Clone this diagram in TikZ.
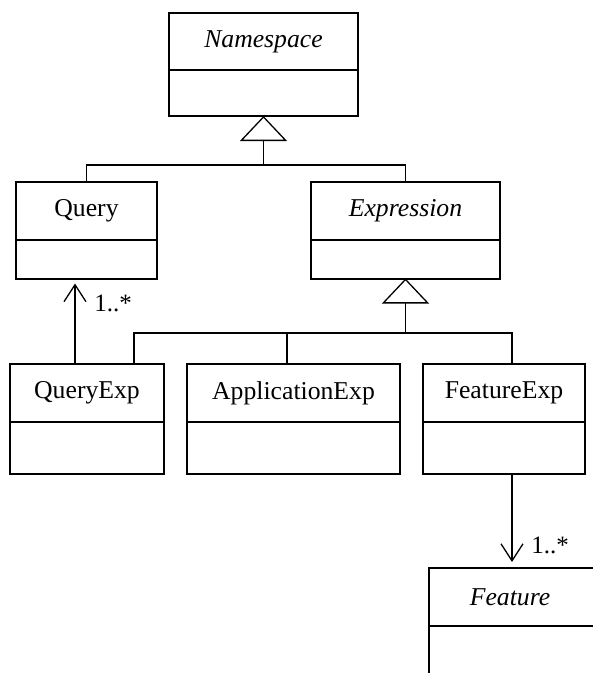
\documentclass[tikz,border=0pt]{standalone}
\usepackage{fontspec}
\setmainfont{Liberation Serif}
\usetikzlibrary{arrows.meta}

\tikzset{
  classname/.style={draw, line width=2pt, inner sep=0pt, outer sep=0pt, anchor=north west,
    minimum height=58pt, font=\fontsize{25.7}{30}\selectfont},
  classattr/.style={draw, line width=2pt, inner sep=0pt, outer sep=0pt, anchor=north},
  link/.style={line width=1.3pt},
  genarrow/.style={link, -{Triangle[open, length=25pt, width=47pt]}},
  navarrow/.style={link, -{Straight Barb[length=17pt, width=22pt]}},
  mult/.style={font=\fontsize{25}{30}\selectfont, inner sep=0pt},
}

\begin{document}
\begin{tikzpicture}[x=1pt, y=-1pt]
  \clip (0,0) rectangle (593,673);
  \fill[white] (0,0) rectangle (593,673);

  % Namespace
  \node[classname, minimum width=189pt, minimum height=57pt] (ns) at (169,13) {\textit{Namespace}};
  \node[classattr, minimum width=189pt, minimum height=46pt] (nsA) at (ns.south) {};

  % Query and Expression
  \node[classname, minimum width=141pt] (q) at (16,181.5) {Query};
  \node[classattr, minimum width=141pt, minimum height=39pt] (qA) at (q.south) {};
  \node[classname, minimum width=189pt] (e) at (311,181.5) {\textit{Expression}};
  \node[classattr, minimum width=189pt, minimum height=39pt] (eA) at (e.south) {};

  % Expression subclasses
  \node[classname, minimum width=154pt] (qe) at (10,364) {QueryExp};
  \node[classattr, minimum width=154pt, minimum height=52pt] (qeA) at (qe.south) {};
  \node[classname, minimum width=213pt] (ae) at (187,364) {ApplicationExp};
  \node[classattr, minimum width=213pt, minimum height=52pt] (aeA) at (ae.south) {};
  \node[classname, minimum width=162pt] (fe) at (423,364) {FeatureExp};
  \node[classattr, minimum width=162pt, minimum height=52pt] (feA) at (fe.south) {};

  % Feature
  \node[classname, minimum width=200pt] (f) at (429,568) {\hspace*{-38pt}\textit{Feature}};
  \node[classattr, minimum width=200pt, minimum height=90pt] (fA) at (f.south) {};

  % Generalization: Query, Expression -> Namespace
  \coordinate (bus1) at (263.5,165);
  \draw[link] (q.north) |- (bus1) -| (e.north);
  \draw[genarrow] (bus1) -- (nsA.south);

  % Generalization: subclasses -> Expression
  \coordinate (bus2) at (405.5,333);
  \coordinate (qeGen) at (134,364);
  \coordinate (aeGen) at (287,364);
  \coordinate (feGen) at (512,364);
  \draw[link] (qeGen) |- (bus2) -| (feGen);
  \draw[link] (aeGen) -- (aeGen |- bus2);
  \draw[genarrow] (bus2) -- (eA.south);

  % Associations
  \coordinate (qeTail) at (75,364);
  \draw[navarrow] (qeTail) -- ([yshift=-5pt]qeTail |- qA.south);
  \node[mult] (m1) at (113,303) {1..*};

  \coordinate (feTail) at (512,474);
  \draw[navarrow] (feTail) -- ([yshift=6pt]feTail |- f.north);
  \node[mult] (m2) at (550,545) {1..*};
\end{tikzpicture}
\end{document}
